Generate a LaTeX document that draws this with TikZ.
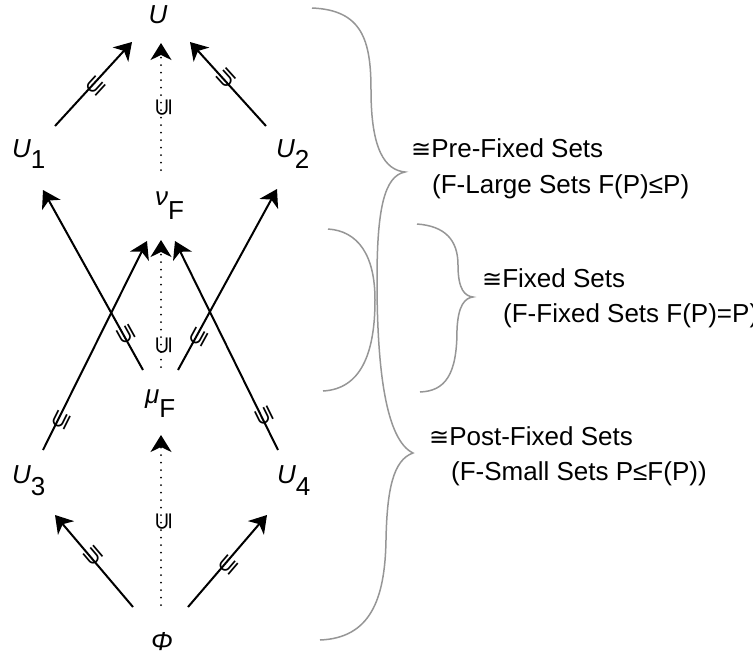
\documentclass[tikz,border=0pt]{standalone}
\usepackage{fontspec}
\setmainfont{Liberation Sans}
\newfontfamily\symfont{DejaVu Sans}
\usetikzlibrary{arrows.meta}
\definecolor{bracegray}{RGB}{150,150,150}
\newcommand\lowsub[2]{{\upshape\raisebox{-#1}{#2}}}
\newcommand\subsym{\makebox[0pt]{\raisebox{-0.42em}[0pt][0pt]{⊆}}}
\newcommand\congsym{{\symfont\fontsize{24}{24}\selectfont ≅}}
\begin{document}
\begin{tikzpicture}[x=1pt,y=-1pt,
  lbl/.style={font=\fontsize{26}{30}\selectfont\itshape, inner sep=0pt, anchor=base west},
  txt/.style={font=\fontsize{26}{30}\selectfont, inner sep=0pt, anchor=base west},
  arr/.style={line width=2pt, -{Stealth[length=17pt,width=21pt,inset=5pt]}},
  dotline/.style={arr, line cap=round, dash pattern=on 0pt off 7.5pt},
  sub/.style={sloped, allow upside down, inner sep=0pt, font=\symfont\fontsize{24}{24}\selectfont},
  bracepath/.style={draw=bracegray, line width=1.5pt}]
\useasboundingbox (0,0) rectangle (753,654);

% element nodes
\node[lbl, anchor=base] (nU) at (158,23) {U};
\node[lbl] (nU1) at (12,157) {U\lowsub{11pt}{1}};
\node[lbl] (nU2) at (276,157) {U\lowsub{11pt}{2}};
\node[lbl] (nnu) at (155,205) {ν\lowsub{14pt}{F}};
\node[lbl] (nmu) at (145,403) {μ\lowsub{14pt}{F}};
\node[lbl] (nU3) at (12,483) {U\lowsub{12pt}{3}};
\node[lbl] (nU4) at (277,483) {U\lowsub{12pt}{4}};
\node[lbl, anchor=base] (nPhi) at (162,650) {Φ};

% connector end points
\coordinate (c1s) at (55,126);  \coordinate (c1e) at (132,42);
\coordinate (c2s) at (266,126); \coordinate (c2e) at (190,42);
\coordinate (d1s) at (161,170); \coordinate (d1e) at (161,43);
\coordinate (c3s) at (43,450);  \coordinate (c3e) at (147,241);
\coordinate (c4s) at (278,450); \coordinate (c4e) at (175,241);
\coordinate (c5s) at (143,370); \coordinate (c5e) at (43,190);
\coordinate (c6s) at (178,370); \coordinate (c6e) at (277,189);
\coordinate (d2s) at (161,367); \coordinate (d2e) at (161,240);
\coordinate (c7s) at (133,607); \coordinate (c7e) at (55,515);
\coordinate (c8s) at (188,607); \coordinate (c8e) at (267,515);
\coordinate (d3s) at (161,605); \coordinate (d3e) at (161,435);

% connectors
\draw[arr] (c1s) -- node[sub, pos=0.5] {\subsym} (c1e);
\draw[arr] (c2s) -- node[sub, pos=0.55] {\subsym} (c2e);
\draw[dotline] (d1s) -- node[sub, pos=0.49] {\subsym} (d1e);
\draw[arr] (c3s) -- node[sub, pos=0.15] {\subsym} (c3e);
\draw[arr] (c4s) -- node[sub, pos=0.16] {\subsym} (c4e);
\draw[arr] (c5s) -- node[sub, pos=0.19] {\subsym} (c5e);
\draw[arr] (c6s) -- node[sub, pos=0.19] {\subsym} (c6e);
\draw[dotline] (d2s) -- node[sub, pos=0.17] {\subsym} (d2e);
\draw[arr] (c7s) -- node[sub, pos=0.54] {\subsym} (c7e);
\draw[arr] (c8s) -- node[sub, pos=0.48] {\subsym} (c8e);
\draw[dotline] (d3s) -- node[sub, pos=0.49] {\subsym} (d3e);

% braces
\draw[bracepath] (312,8) .. controls (362,10) and (371,40) .. (371,90)
  .. controls (371,150) and (385,170) .. (405,172)
  .. controls (384,176) and (377,210) .. (377,280)
  .. controls (377,370) and (386,440) .. (413,453)
  .. controls (393,460) and (387,490) .. (386,540)
  .. controls (385,600) and (370,638) .. (320,640);
\draw[bracepath] (328,229) .. controls (358,231) and (375,255) .. (375,300)
  .. controls (375,355) and (360,389) .. (323,391);
\draw[bracepath] (417,224) .. controls (445,226) and (458,240) .. (458,265)
  .. controls (458,290) and (465,296) .. (473,297)
  .. controls (465,298) and (458,305) .. (457,330)
  .. controls (457,375) and (445,391) .. (420,392);

% texts
\node[txt] (t1a) at (411,157) {\congsym Pre-Fixed Sets};
\node[txt] (t1b) at (432,193) {(F-Large Sets F(P)≤P)};
\node[txt] (t2a) at (482,287) {\congsym Fixed Sets};
\node[txt] (t2b) at (503,322) {(F-Fixed Sets F(P)=P)};
\node[txt] (t3a) at (429,445) {\congsym Post-Fixed Sets};
\node[txt] (t3b) at (451,480) {(F-Small Sets P≤F(P))};
\end{tikzpicture}
\end{document}
